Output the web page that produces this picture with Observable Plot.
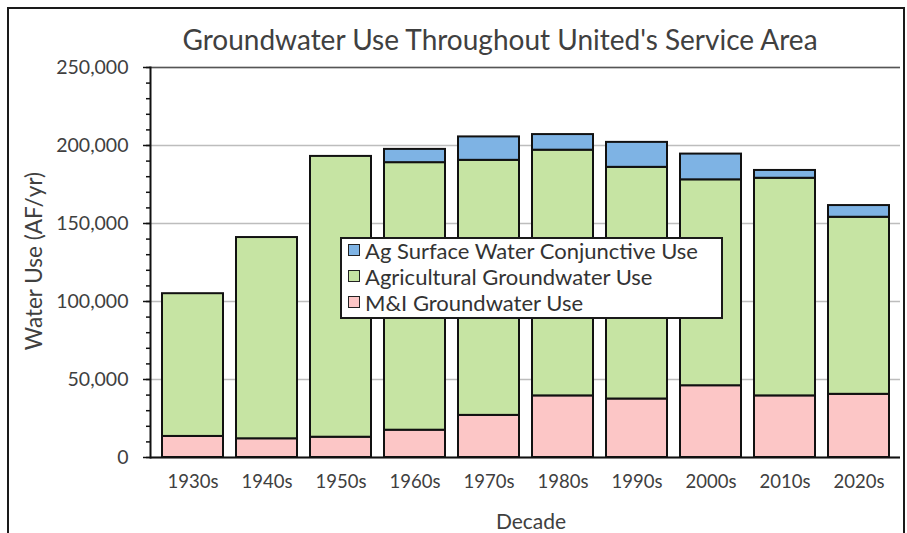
<!DOCTYPE html>
<html>
<head>
<meta charset="utf-8">
<script src="https://cdn.jsdelivr.net/npm/d3@7"></script>
<script src="https://cdn.jsdelivr.net/npm/@observablehq/plot@0.6"></script>
<style>
  html, body { margin: 0; padding: 0; background: #fff; }
  #wrap { position: relative; width: 907px; height: 533px; overflow: hidden; font-family: Lato, "Open Sans", sans-serif; color: #404040; }
  #frame { position: absolute; left: 7px; top: 7px; width: 894px; height: 560px; border: 2px solid #1a1a1a; pointer-events: none; }
  #title { position: absolute; left: 500px; top: 39px; transform: translate(-50%, -50%); font-size: 28px; white-space: nowrap; }
  #ylab { position: absolute; left: 33px; top: 261px; transform: translate(-50%, -50%) rotate(-90deg); font-size: 22.5px; white-space: nowrap; }
  #xlab { position: absolute; left: 531px; top: 520px; transform: translate(-50%, -50%); font-size: 21px; white-space: nowrap; }
  #legend { position: absolute; left: 340px; top: 237px; width: 379px; height: 78px; background: #fff; border: 2px solid #1a1a1a; box-sizing: content-box; }
  .row { position: absolute; left: 6px; height: 26px; display: flex; align-items: center; font-size: 22px; white-space: nowrap; color: #333; }
  .sw { width: 10px; height: 10px; border: 1.5px solid #222; margin-right: 5px; }
  #chart svg { position: absolute; left: 0; top: 0; }
</style>
</head>
<body>
<div id="wrap">
  <div id="chart"></div>
  <div id="title"></div>
  <div id="ylab"></div>
  <div id="xlab"></div>
  <div id="legend"></div>
  <div id="frame"></div>
</div>
<script>
const decades = ["1930s", "1940s", "1950s", "1960s", "1970s", "1980s", "1990s", "2000s", "2010s", "2020s"];
const miGroundwater = [13500, 12000, 13000, 17500, 27000, 39500, 37500, 46000, 39500, 40500];
const agGroundwater = [91500, 129000, 180000, 171500, 163500, 157500, 148500, 132000, 139500, 113500];
const agSurfaceConjunctive = [0, 0, 0, 8500, 15000, 10000, 16000, 16500, 5000, 7500];
const seriesNames = ["M&I Groundwater Use", "Agricultural Groundwater Use", "Ag Surface Water Conjunctive Use"];
const seriesColors = ["#fcc6c6", "#c6e4a3", "#7eb3e4"];
const legendOrder = ["Ag Surface Water Conjunctive Use", "Agricultural Groundwater Use", "M&I Groundwater Use"];
const yTicks = [0, 50000, 100000, 150000, 200000, 250000];
const titleText = "Groundwater Use Throughout United's Service Area";
const yLabel = "Water Use (AF/yr)";
const xLabel = "Decade";

const seriesValues = [miGroundwater, agGroundwater, agSurfaceConjunctive];
const data = decades.flatMap((d, i) =>
  seriesNames.map((s, k) => ({decade: d, series: s, value: seriesValues[k][i]}))
).filter(d => d.value > 0);

const minorTicks = d3.range(0, 250001, 10000);

const chart = Plot.plot({
  width: 907,
  height: 533,
  marginLeft: 150,
  marginRight: 7,
  marginTop: 67,
  marginBottom: 76,
  style: {fontFamily: "Lato, 'Open Sans', sans-serif", color: "#404040", background: "transparent"},
  x: {domain: decades, paddingInner: 0.18, paddingOuter: 0.1, label: null},
  y: {domain: [0, 250000], label: null},
  color: {domain: seriesNames, range: seriesColors},
  marks: [
    Plot.gridY(yTicks, {stroke: "#bdbdbd", strokeOpacity: 1, strokeWidth: 1.5}),
    Plot.ruleY([250000], {stroke: "#555", strokeWidth: 1.5}),
    Plot.barY(data, {x: "decade", y: "value", fill: "series", order: seriesNames, stroke: "#111", strokeWidth: 2}),
    Plot.axisY({ticks: minorTicks, tickFormat: () => "", tickSize: 4, stroke: "#111", strokeWidth: 1.5}),
    Plot.axisY({ticks: yTicks, tickFormat: d3.format(","), tickSize: 7, tickPadding: 15, fontSize: 19.5, stroke: "#111", strokeWidth: 1.5, fill: "#404040", label: null}),
    Plot.axisX({tickSize: 0, tickPadding: 17, fontSize: 18.5, fill: "#404040", label: null}),
    Plot.frame({anchor: "left", stroke: "#111", strokeWidth: 2}),
    Plot.ruleY([0], {stroke: "#111", strokeWidth: 2})
  ]
});
document.getElementById("chart").appendChild(chart);
document.getElementById("title").textContent = titleText;
document.getElementById("ylab").textContent = yLabel;
document.getElementById("xlab").textContent = xLabel;

const legend = document.getElementById("legend");
legendOrder.forEach((name, i) => {
  const row = document.createElement("div");
  row.className = "row";
  row.style.top = (i * 26 - 2) + "px";
  const sw = document.createElement("span");
  sw.className = "sw";
  sw.style.background = seriesColors[seriesNames.indexOf(name)];
  const t = document.createElement("span");
  t.textContent = name;
  row.appendChild(sw);
  row.appendChild(t);
  legend.appendChild(row);
});
</script>
</body>
</html>
